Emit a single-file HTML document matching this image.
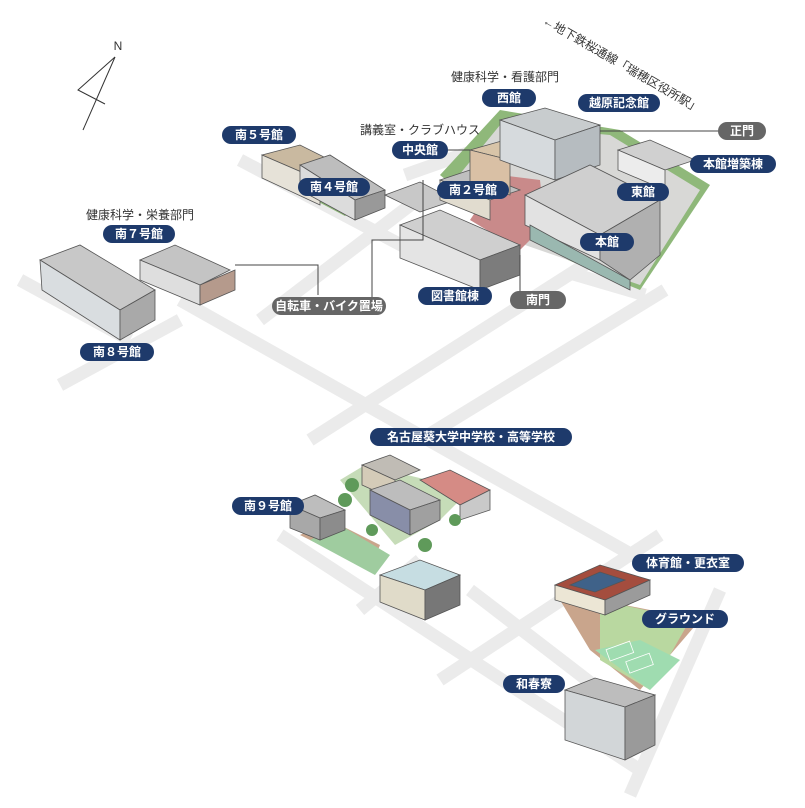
<!DOCTYPE html>
<html><head><meta charset="utf-8"><style>
html,body{margin:0;padding:0;background:#fff}
svg{display:block}
.lb{font-family:"Liberation Sans","Noto Sans CJK JP",sans-serif;font-weight:bold;font-size:12px;fill:#fff;text-anchor:middle}
.tx{font-family:"Liberation Sans","Noto Sans CJK JP",sans-serif;font-size:12px;fill:#333;text-anchor:middle}
</style></head><body>
<svg width="805" height="808" viewBox="0 0 805 808" xmlns="http://www.w3.org/2000/svg">
<g stroke="#ebebeb" stroke-width="13" stroke-linecap="butt" fill="none">
<line x1="180" y1="300" x2="650" y2="565"/>
<line x1="280" y1="535" x2="640" y2="770"/>
<line x1="470" y1="590" x2="600" y2="690"/>
<line x1="310" y1="440" x2="600" y2="255"/>
<line x1="420" y1="440" x2="665" y2="290"/>
<line x1="440" y1="680" x2="660" y2="535"/>
<line x1="360" y1="610" x2="420" y2="560"/>
<line x1="60" y1="385" x2="180" y2="320"/>
<line x1="720" y1="590" x2="630" y2="795"/>
<line x1="240" y1="160" x2="420" y2="255"/>
<line x1="260" y1="320" x2="430" y2="190"/>
<line x1="405" y1="175" x2="510" y2="138"/>
<line x1="20" y1="280" x2="130" y2="340"/>
<line x1="570" y1="273" x2="645" y2="295"/>
</g>
<!-- ground areas -->
<polygon points="262,172 290,160 370,200 345,216" fill="#8fb87a"/>
<polygon points="440,175 500,110 620,130 710,185 640,290 520,240" fill="#8fb87a"/>
<polygon points="455,180 500,125 610,135 700,190 640,285 525,245" fill="#d8d8d6"/>
<polygon points="470,220 500,175 540,180 545,225 520,250" fill="#c98a8a"/>
<polygon points="300,535 330,520 380,545 370,570" fill="#c9a58c"/>
<polygon points="310,540 340,525 390,555 375,575" fill="#9fcc9f"/>
<polygon points="340,480 365,465 470,490 440,520 395,545" fill="#c6dcb8"/>
<polygon points="560,600 600,600 700,620 640,690 590,650" fill="#c9a58c"/>
<polygon points="600,600 690,620 650,690 600,660" fill="#b9d8a0"/>
<polygon points="595,650 640,640 680,660 650,690" fill="#9fdcb0"/>
<!-- buildings -->
<g stroke="#555" stroke-width="0.8">
<polygon points="40,260 80,245 155,290 120,310" fill="#c8c8c8"/>
<polygon points="40,260 120,310 120,340 42,290" fill="#d9dde0"/>
<polygon points="120,310 155,290 155,320 120,340" fill="#a9a9a9"/>
<polygon points="140,260 175,245 230,270 200,285" fill="#c4c4c4"/>
<polygon points="140,260 200,285 200,305 140,280" fill="#dedede"/>
<polygon points="200,285 235,270 235,290 200,305" fill="#b59a8c"/>
<polygon points="262,155 300,145 350,170 320,180" fill="#c9b9a0"/>
<polygon points="262,155 320,180 320,205 262,178" fill="#e6e2d8"/>
<polygon points="300,165 330,155 385,190 355,200" fill="#bdbdbd"/>
<polygon points="300,165 355,200 355,220 300,190" fill="#dcdcdc"/>
<polygon points="355,200 385,190 385,208 355,220" fill="#999"/>
<polygon points="385,195 420,182 455,200 420,212" fill="#c8c8c8"/>
<polygon points="400,225 440,210 520,245 480,260" fill="#cfcfcf"/>
<polygon points="400,225 480,260 480,290 400,258" fill="#e4e4e4"/>
<polygon points="480,260 520,245 520,275 480,290" fill="#7c7c7c"/>
<polygon points="440,180 470,170 520,190 490,200" fill="#bfbfbf"/>
<polygon points="440,180 490,200 490,220 440,200" fill="#e1dccf"/>
<polygon points="470,150 505,140 535,150 510,160" fill="#d8c4a8"/>
<polygon points="470,150 510,160 510,195 470,185" fill="#d9c0a5"/>
<polygon points="500,120 545,108 600,125 555,140" fill="#c8ccce"/>
<polygon points="500,120 555,140 555,180 500,160" fill="#d6dadd"/>
<polygon points="555,140 600,125 600,165 555,180" fill="#b6bcc0"/>
<polygon points="618,150 650,140 695,160 665,170" fill="#d0d0d0"/>
<polygon points="618,150 665,170 665,190 618,170" fill="#ececec"/>
<polygon points="525,195 590,165 660,200 600,235" fill="#cfcfcf"/>
<polygon points="525,195 600,235 600,260 525,225" fill="#e2e2e2"/>
<polygon points="530,225 630,280 630,290 530,240" fill="#9ab8b0"/>
<polygon points="600,235 660,200 660,255 630,280 600,260" fill="#b0b0b0"/>
<!-- school -->
<polygon points="362,465 390,455 420,470 395,480" fill="#c0bcb5"/>
<polygon points="362,465 395,480 395,500 362,485" fill="#d4cbb8"/>
<polygon points="420,480 450,470 490,490 460,505" fill="#d58b85"/>
<polygon points="460,505 490,490 490,510 460,520" fill="#c9c9c9"/>
<polygon points="370,490 400,480 440,500 410,510" fill="#bdbdbd"/>
<polygon points="370,490 410,510 410,535 370,515" fill="#888ea8"/>
<polygon points="410,510 440,500 440,520 410,535" fill="#a0a0a0"/>
<g fill="#5f9a5a" stroke="none"><circle cx="345" cy="500" r="7"/><circle cx="352" cy="485" r="7"/><circle cx="372" cy="530" r="6"/><circle cx="425" cy="545" r="7"/><circle cx="455" cy="520" r="6"/></g>
<polygon points="290,505 315,495 345,510 320,518" fill="#bdbdbd"/>
<polygon points="290,505 320,518 320,540 290,528" fill="#a8a8a8"/>
<polygon points="320,518 345,510 345,530 320,540" fill="#8c8c8c"/>
<polygon points="380,575 420,560 460,575 425,590" fill="#c6dde2"/>
<polygon points="380,575 425,590 425,620 380,602" fill="#e0dbc9"/>
<polygon points="425,590 460,575 460,605 425,620" fill="#777"/>
<polygon points="555,585 600,565 650,580 605,600" fill="#a44d3e"/>
<polygon points="570,585 600,572 625,580 595,592" fill="#3f6289"/>
<polygon points="555,585 605,600 605,615 555,600" fill="#ece6d5"/>
<polygon points="605,600 650,580 650,595 605,615" fill="#9b9b9b"/>
<polygon points="565,690 595,678 655,695 625,707" fill="#bdbdbd"/>
<polygon points="565,690 625,707 625,760 565,740" fill="#d2d6d8"/>
<polygon points="625,707 655,695 655,745 625,760" fill="#9a9a9a"/>
</g>
<g stroke="#fff" stroke-width="0.8" fill="none"><rect x="607" y="645" width="25" height="12" transform="rotate(-20 620 650)"/><rect x="627" y="657" width="25" height="12" transform="rotate(-20 640 663)"/></g>
<g stroke="#333" stroke-width="1" fill="none"><polyline points="115,57 78,90 105,104"/><line x1="115" y1="57" x2="83" y2="130"/></g>
<text x="118" y="50" class="tx" font-size="13">N</text>
<g stroke="#444" stroke-width="1" fill="none">
<polyline points="235,265 318,265 318,295"/>
<polyline points="423,180 423,240 372,240 372,300"/>
<polyline points="520,255 520,295"/>
<polyline points="600,131 720,131"/>
<polyline points="443,150 470,150"/>
</g>
<text x="505" y="81" class="tx">健康科学・看護部門</text>
<text x="420" y="134" class="tx">講義室・クラブハウス</text>
<text x="140" y="219" class="tx">健康科学・栄養部門</text>
<text x="620" y="68" class="tx" transform="rotate(30 620 68)">←地下鉄桜通線「瑞穂区役所駅」</text>
<g>
<rect x="482" y="89" width="54" height="18" rx="9" fill="#1e3a6b"/><text x="509" y="102" class="lb">西館</text>
<rect x="578" y="94" width="82" height="18" rx="9" fill="#1e3a6b"/><text x="619" y="107" class="lb">越原記念館</text>
<rect x="718" y="122" width="48" height="18" rx="9" fill="#666"/><text x="742" y="135" class="lb">正門</text>
<rect x="690" y="155" width="86" height="18" rx="9" fill="#1e3a6b"/><text x="733" y="168" class="lb">本館増築棟</text>
<rect x="392" y="141" width="56" height="18" rx="9" fill="#1e3a6b"/><text x="420" y="154" class="lb">中央館</text>
<rect x="437" y="181" width="72" height="18" rx="9" fill="#1e3a6b"/><text x="473" y="194" class="lb">南２号館</text>
<rect x="617" y="183" width="52" height="18" rx="9" fill="#1e3a6b"/><text x="643" y="196" class="lb">東館</text>
<rect x="580" y="233" width="54" height="18" rx="9" fill="#1e3a6b"/><text x="607" y="246" class="lb">本館</text>
<rect x="418" y="287" width="74" height="18" rx="9" fill="#1e3a6b"/><text x="455" y="300" class="lb">図書館棟</text>
<rect x="510" y="291" width="56" height="18" rx="9" fill="#666"/><text x="538" y="304" class="lb">南門</text>
<rect x="272" y="297" width="114" height="18" rx="9" fill="#666"/><text x="329" y="310" class="lb">自転車・バイク置場</text>
<rect x="222" y="126" width="74" height="18" rx="9" fill="#1e3a6b"/><text x="259" y="139" class="lb">南５号館</text>
<rect x="298" y="178" width="72" height="18" rx="9" fill="#1e3a6b"/><text x="334" y="191" class="lb">南４号館</text>
<rect x="103" y="225" width="72" height="18" rx="9" fill="#1e3a6b"/><text x="139" y="238" class="lb">南７号館</text>
<rect x="80" y="343" width="74" height="18" rx="9" fill="#1e3a6b"/><text x="117" y="356" class="lb">南８号館</text>
<rect x="370" y="428" width="202" height="18" rx="9" fill="#1e3a6b"/><text x="471" y="441" class="lb">名古屋葵大学中学校・高等学校</text>
<rect x="232" y="497" width="72" height="18" rx="9" fill="#1e3a6b"/><text x="268" y="510" class="lb">南９号館</text>
<rect x="632" y="554" width="112" height="18" rx="9" fill="#1e3a6b"/><text x="688" y="567" class="lb">体育館・更衣室</text>
<rect x="642" y="610" width="86" height="18" rx="9" fill="#1e3a6b"/><text x="685" y="623" class="lb">グラウンド</text>
<rect x="503" y="675" width="62" height="18" rx="9" fill="#1e3a6b"/><text x="534" y="688" class="lb">和春寮</text>
</g>
</svg>
</body></html>
